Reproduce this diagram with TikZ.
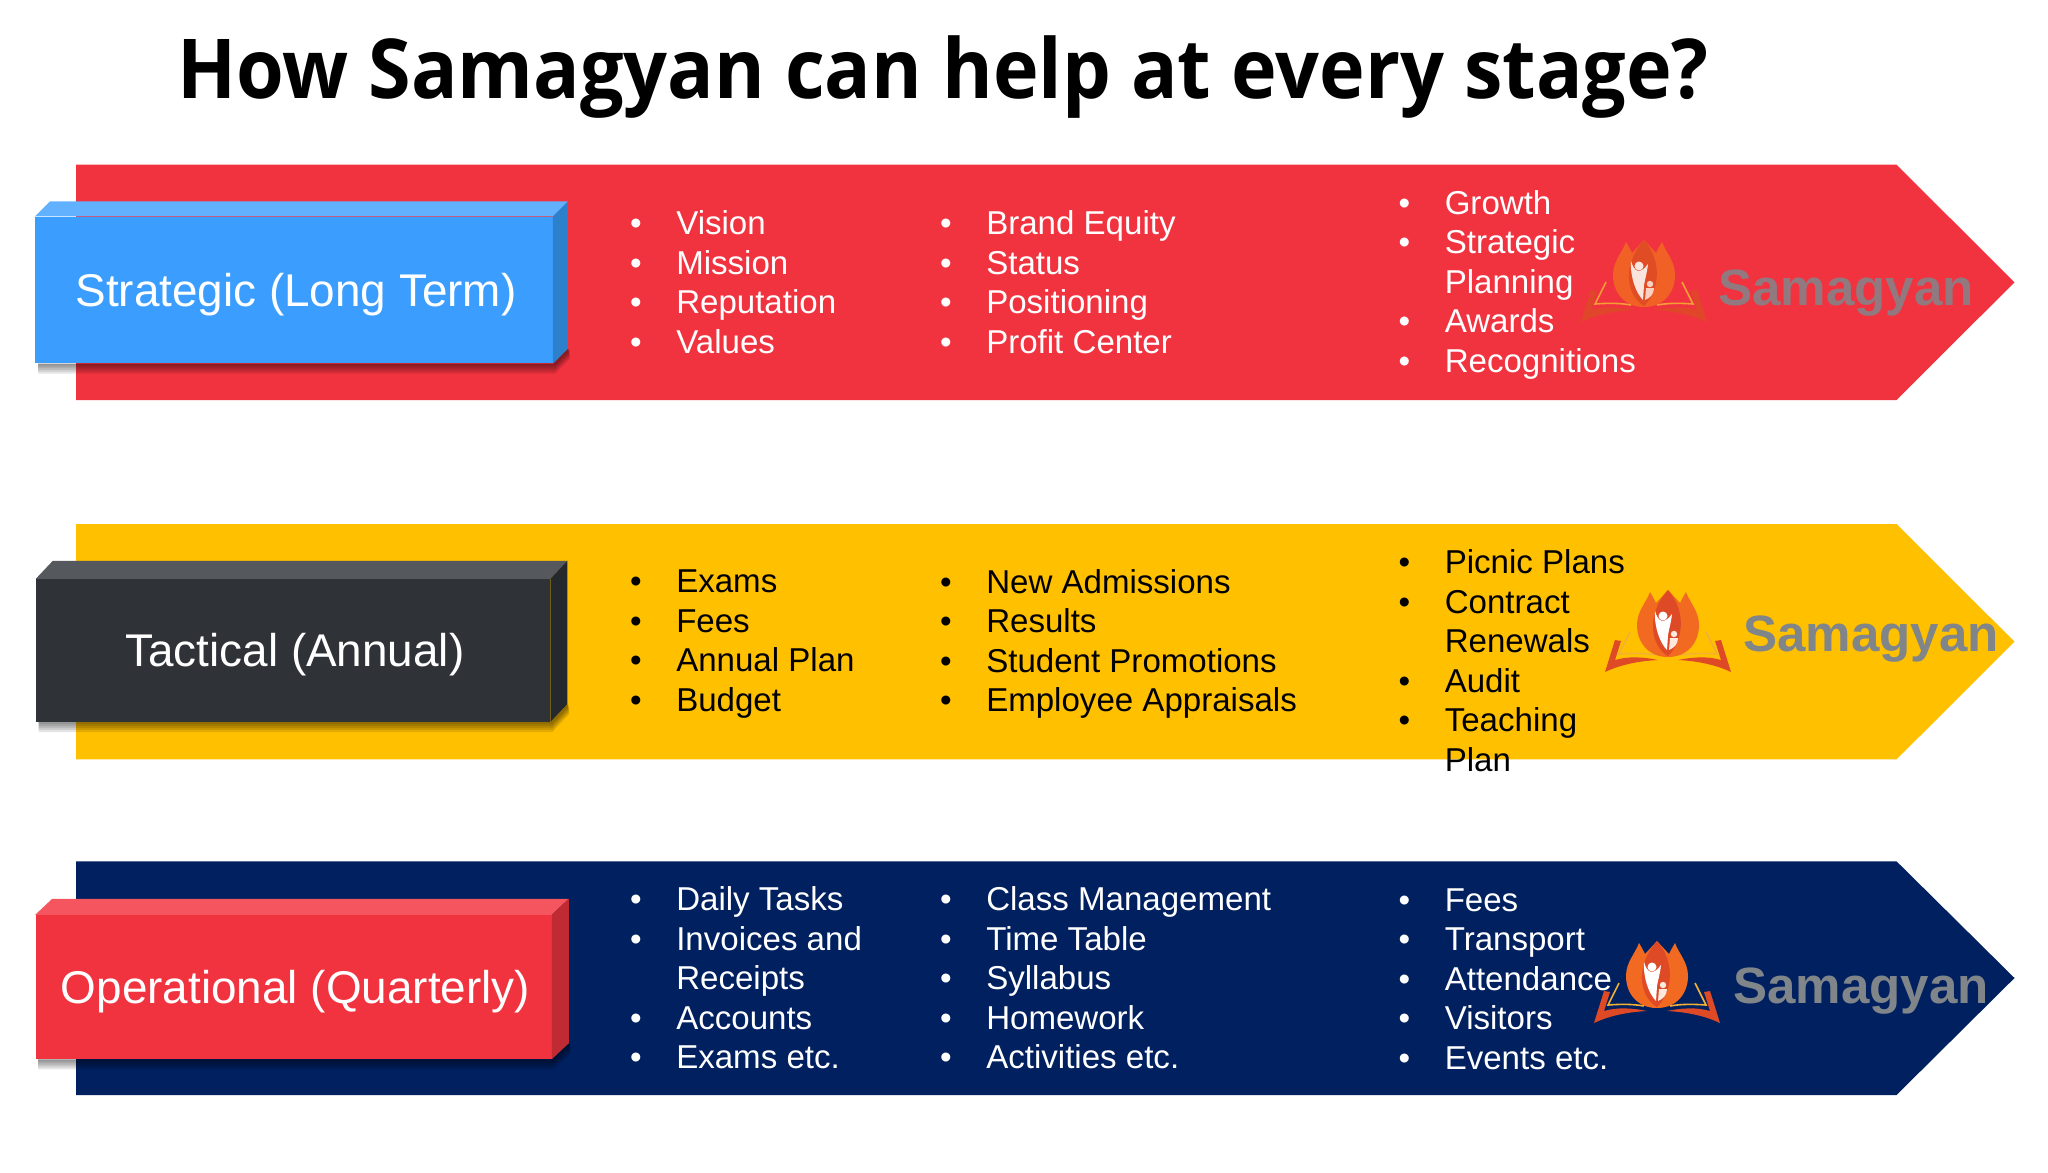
\documentclass[tikz,border=0pt]{standalone}
\usepackage{fontspec}
\setmainfont{Liberation Sans}
\newfontfamily\titlefont[FakeStretch=0.934]{Open Sans}
\usetikzlibrary{positioning}
\definecolor{bandred}{HTML}{F13340}
\definecolor{bandyellow}{HTML}{FFC000}
\definecolor{bandnavy}{HTML}{002060}
\definecolor{blueface}{HTML}{3B9EFF}
\definecolor{bluetop}{HTML}{62B1FF}
\definecolor{blueside}{HTML}{2D80CC}
\definecolor{darkface}{HTML}{2F3237}
\definecolor{darktop}{HTML}{55585C}
\definecolor{darkside}{HTML}{25282C}
\definecolor{redtop}{HTML}{F4555F}
\definecolor{redside}{HTML}{C02A33}
\definecolor{logoorange}{HTML}{F26A21}
\definecolor{logored}{HTML}{DE4A26}
\definecolor{logogold}{HTML}{F2B134}
\definecolor{wordgray}{HTML}{80858A}
\newcommand{\itm}{\leavevmode\llap{\textbullet\hspace{26pt}}}
\newcommand{\band}[4]{\fill[#4] (76,#1) -- (1896.5,#1) -- (2014.5,#3) -- (1896.5,#2) -- (76,#2) -- cycle;}
% shadow, top face and side face of a front box; #4,#5 = depth
\newcommand{\faces}[5]{
  \foreach \d in {2,4,6,8,10} {
    \fill[black,opacity=.1] ([shift={(3,0)}]#1.south west) -- ([shift={(3,\d)}]#1.south west)
      -- ([shift={(2,\d)}]#1.south east) -- ([shift={(#4+2,-#5+\d)}]#1.south east) -- ([shift={(#4,-#5)}]#1.south east) -- (#1.south east) -- cycle;
  }
  \fill[#2] (#1.north west) -- ++(#4,-#5) -- ([shift={(#4,-#5)}]#1.north east) -- (#1.north east) -- cycle;
  \fill[#3] (#1.north east) -- ++(#4,-#5) -- ([shift={(#4,-#5)}]#1.south east) -- (#1.south east) -- cycle;
}
\tikzset{
  frontbox/.style = {rectangle, inner sep=0pt, text=white, text height=24.6pt, text depth=0pt,
    font=\fontsize{34.4}{40}\selectfont, execute at begin node=\hspace*{3pt}},
  listcol/.style = {anchor=west, align=left, inner sep=0pt, font=\fontsize{24.8}{29.6}\selectfont},
  logoword/.style = {anchor=west, inner sep=0pt, text=wordgray, font=\fontsize{38.3}{40}\selectfont\bfseries},
  samagyan logo/.pic = {
    % book, both halves
    \foreach \s in {1,-1} {
      \begin{scope}[xscale=\s]
      \fill[logored] (-63,15) -- (-53,-17) -- (-47,-16) -- (-53,3)
        .. controls (-40,-1) and (-24,0) .. (-10,3)
        .. controls (-28,4) and (-46,7) .. (-63,15) -- cycle;
      \draw[logogold, line width=1.2pt] (-38,-25) -- (-49,-3) .. controls (-36,-4) and (-24,-4) .. (-13,-2);
      \end{scope}
    }
    % flame
    \fill[logoorange] (0,0) .. controls (-20,0) and (-31,-15) .. (-31,-32)
      .. controls (-31,-46) and (-22,-54) .. (-18,-65) .. controls (-15,-60) and (-14,-58) .. (-12,-54)
      -- (0,-67) -- (12,-54)
      .. controls (14,-58) and (15,-60) .. (18,-65) .. controls (22,-54) and (31,-46) .. (31,-32)
      .. controls (31,-15) and (20,0) .. (0,0) -- cycle;
    \fill[logored] (0,-1) .. controls (-16,-10) and (-24,-40) .. (0,-67)
      .. controls (20,-44) and (14,-14) .. (0,-1) -- cycle;
    % figures
    \fill[white] (-13,-46) .. controls (-10,-35) and (-4,-32) .. (4,-43)
      .. controls (3,-34) and (1,-28) .. (0,-22) -- (-1,-7) .. controls (-8,-14) and (-14,-30) .. (-13,-46) -- cycle;
    \fill[white] (-5,-41) circle (4.5);
    \fill[white!85!logoorange] (6,-23) circle (3.2);
    \fill[white!85!logoorange] (2,-19) -- (10,-19) .. controls (10,-13) and (6,-9) .. (1,-7) -- cycle;
  }
}
\begin{document}
\begin{tikzpicture}[x=0.75pt, y=-0.75pt]
\useasboundingbox (0,0) rectangle (2048,1172);
\node[anchor=base west, inner sep=0pt, font=\fontsize{62}{66}\selectfont\bfseries\titlefont] (title) at (177,98) {How Samagyan can help at every stage?};

% strategic band
\band{164.7}{400}{282.3}{bandred}
\node[frontbox, fill=blueface, minimum width=388pt, minimum height=110pt] (strategic) at (294,290) {Strategic (Long Term)};
\faces{strategic}{bluetop}{blueside}{15}{15}
\node[listcol, text=white] (stratA) at (676,282) {\itm Vision\\ \itm Mission\\ \itm Reputation\\ \itm Values};
\node[listcol, text=white] (stratB) at (986,282) {\itm Brand Equity\\ \itm Status\\ \itm Positioning\\ \itm Profit Center};
\node[listcol, text=white] (stratC) at (1444.5,284.8) {\itm Growth\\ \itm Strategic\\ Planning\\ \itm Awards\\ \itm Recognitions};
\pic[opacity=.85] at (1644,307) {samagyan logo};
\node[logoword, text=wordgray!85!bandred] (wordA) at (1718,293.5) {Samagyan};

% tactical band
\band{524}{759.4}{641.7}{bandyellow}
\node[frontbox, fill=darkface, minimum width=385.5pt, minimum height=107pt] (tactical) at (293,650.5) {Tactical (Annual)};
\faces{tactical}{darktop}{darkside}{17}{18}
\node[listcol] (tactA) at (676,644) {\itm Exams\\ \itm Fees\\ \itm Annual Plan\\ \itm Budget};
\node[listcol] (tactB) at (986,644) {\itm New Admissions\\ \itm Results\\ \itm Student Promotions\\ \itm Employee Appraisals};
\node[listcol] (tactC) at (1444.5,660.7) {\itm Picnic Plans\\ \itm Contract\\ Renewals\\ \itm Audit\\ \itm Teaching\\ Plan};
\pic at (1668,657) {samagyan logo};
\node[logoword] (wordB) at (1743,639) {Samagyan};

% operational band
\band{861.3}{1095}{978}{bandnavy}
\node[frontbox, fill=bandred, minimum width=387pt, minimum height=108pt] (operational) at (293.5,987) {Operational (Quarterly)};
\faces{operational}{redtop}{redside}{17}{16}
\node[listcol, text=white] (operA) at (676,977.8) {\itm Daily Tasks\\ \itm Invoices and\\ Receipts\\ \itm Accounts\\ \itm Exams etc.};
\node[listcol, text=white] (operB) at (986,977.8) {\itm Class Management\\ \itm Time Table\\ \itm Syllabus\\ \itm Homework\\ \itm Activities etc.};
\node[listcol, text=white] (operC) at (1444.5,979) {\itm Fees\\ \itm Transport\\ \itm Attendance\\ \itm Visitors\\ \itm Events etc.};
\pic at (1657,1008) {samagyan logo};
\node[logoword] (wordC) at (1733,991) {Samagyan};
\end{tikzpicture}
\end{document}
